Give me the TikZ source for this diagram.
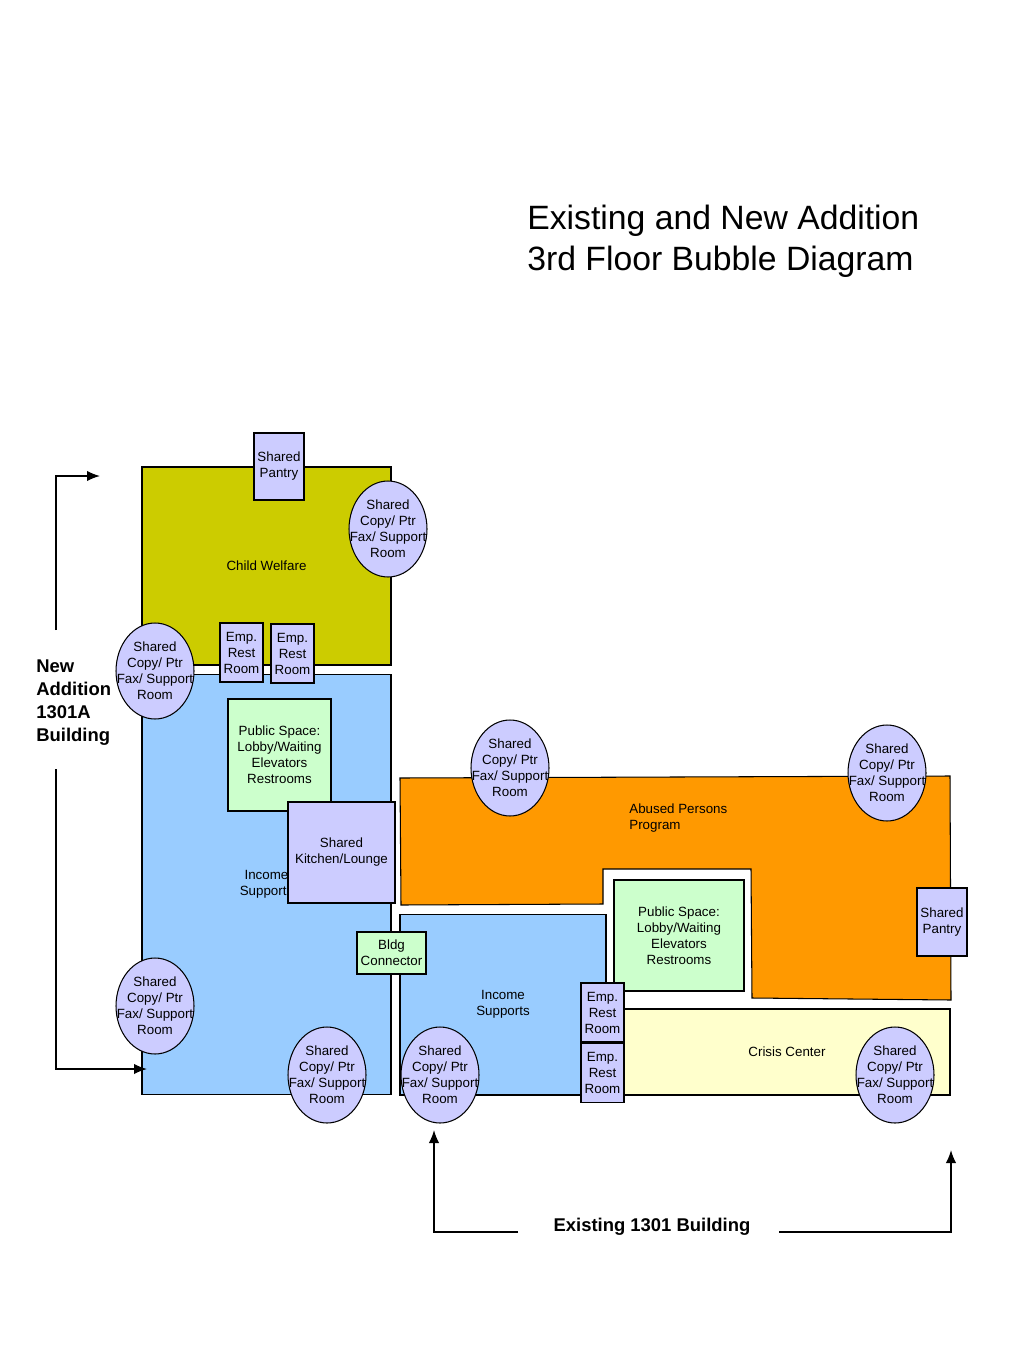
\documentclass[tikz,border=0pt]{standalone}
\usepackage{fontspec}
\setmainfont{Liberation Sans}
\usetikzlibrary{shapes.geometric,arrows.meta}
\definecolor{cwel}{HTML}{CCCC00}
\definecolor{isup}{HTML}{99CCFF}
\definecolor{lav}{HTML}{CCCCFF}
\definecolor{pubgrn}{HTML}{CCFFCC}
\definecolor{apporg}{HTML}{FF9900}
\definecolor{crc}{HTML}{FFFFCC}

\begin{document}
\begin{tikzpicture}[x=0.02cm,y=-0.02cm,font=\fontsize{7.6}{9.1}\selectfont,
  rm/.style={draw,line width=0.6pt,inner sep=0pt,align=center},
  box/.style={rm,fill=lav},
  pub/.style={rm,fill=pubgrn},
  bub/.style={ellipse,draw,line width=0.6pt,fill=lav,minimum width=1.56cm,minimum height=1.92cm,inner sep=0pt},
  txt/.style={align=center,inner sep=0pt},
  big/.style={font=\fontsize{10.5}{13}\selectfont\bfseries,inner sep=0pt},
  a/.style={-{Latex[length=2.6mm,width=2.1mm]},line width=0.9pt}]
\useasboundingbox (0,0) rectangle (1024,1365);

\node[anchor=west,align=left,inner sep=0pt,font=\fontsize{19.2}{23.2}\selectfont](ttl) at (527,241){Existing and New Addition\\3rd Floor Bubble Diagram};

% new addition 1301A
\node[rm,fill=cwel,minimum width=4.98cm,minimum height=3.96cm](cw) at (266.5,566){Child Welfare};
\node[rm,fill=isup,minimum width=4.98cm,minimum height=8.42cm](isl) at (266.5,884.5){Income\\Supports};
\node[box,minimum width=1cm,minimum height=1.34cm](pty1) at (279,466.5){Shared\\Pantry};
\node[box,minimum width=.86cm,minimum height=1.18cm](er1) at (241.5,652.5){Emp.\\Rest\\Room};
\node[box,minimum width=.86cm,minimum height=1.18cm](er2) at (292.5,653.5){Emp.\\Rest\\Room};
\node[pub,minimum width=2.06cm,minimum height=2.24cm](ps1) at (279.5,755){Public Space:\\Lobby/Waiting\\Elevators\\Restrooms};
\node[box,minimum width=2.14cm,minimum height=2.02cm](kit) at (341.5,852.5){Shared\\Kitchen/Lounge};

% existing 1301
\draw[line width=0.6pt,fill=apporg] (400,778) -- (950,776) -- (951,1000) -- (752,998) -- (751,869) -- (603,869) -- (603,904) -- (401,905) -- cycle;
\node[anchor=west,align=left,inner sep=0pt](app) at (629,818){Abused Persons\\Program};
\node[rm,fill=isup,minimum width=4.12cm,minimum height=3.62cm](isr) at (503,1004.5){Income\\Supports};
\node[pub,minimum width=1.38cm,minimum height=.84cm](bc) at (391.5,953){Bldg\\Connector};
\node[pub,minimum width=2.6cm,minimum height=2.22cm](ps2) at (679,935.5){Public Space:\\Lobby/Waiting\\Elevators\\Restrooms};
\node[rm,fill=crc,minimum width=6.52cm,minimum height=1.72cm](cc) at (787,1052){Crisis Center};
\node[box,minimum width=1cm,minimum height=1.36cm](pty2) at (942,922){Shared\\Pantry};
\node[box,minimum width=.86cm,minimum height=1.18cm](er3) at (602.5,1012.5){Emp.\\Rest\\Room};
\node[box,minimum width=.86cm,minimum height=1.18cm](er4) at (602.5,1073){Emp.\\Rest\\Room};

% copy rooms
\foreach \n/\x/\y in {cpa/388/529,cpb/155/671,cpc/510/768,cpd/887/773,cpe/155/1006,cpf/327/1075,cpg/440/1075,cph/895/1075}{
  \node[bub](\n) at (\x,\y){};
  \node[txt](\n t) at (\n){Shared\\Copy/ Ptr\\Fax/ Support\\Room};
}

% building marks
\node[big,anchor=west,align=left](nad) at (36,702.5){New\\Addition\\1301A\\Building};
\node[big](exb) at (652,1227){Existing 1301 Building};
\coordinate (la) at (56,630); \coordinate (lb) at (100,476);
\coordinate (lc) at (56,769); \coordinate (ld) at (147,1069);
\coordinate (ba) at (518,1232); \coordinate (bb) at (434,1130);
\coordinate (bc1) at (779,1232); \coordinate (bd) at (951,1150);
\draw[a] (la) |- (lb); \draw[a] (lc) |- (ld);
\draw[a] (ba) -| (bb); \draw[a] (bc1) -| (bd);
\end{tikzpicture}
\end{document}
